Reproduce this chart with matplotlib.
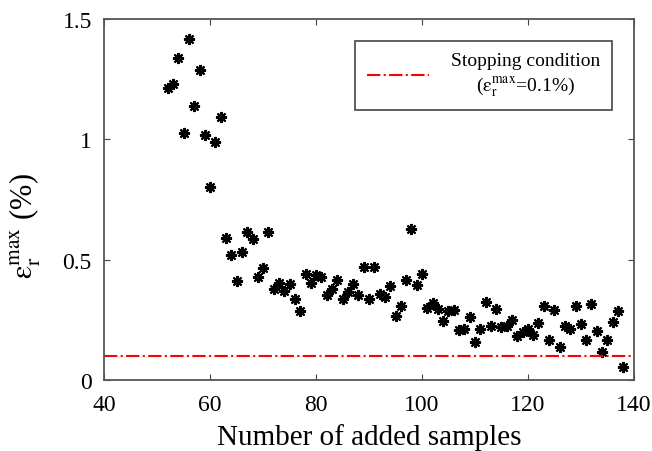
import matplotlib
matplotlib.use("Agg")
import matplotlib.pyplot as plt

# number of added samples and the max relative error (%) after each one
samples = list(range(52, 139))
err_max = [
    1.215, 1.228, 1.336, 1.024, 1.418, 1.138, 1.289, 1.018, 0.800, 0.989,  # 52-61
    1.093, 0.592, 0.519, 0.412, 0.532, 0.615, 0.585, 0.430, 0.465, 0.615,  # 62-71
    0.378, 0.405, 0.370, 0.398, 0.336, 0.288, 0.440, 0.405, 0.436, 0.426,  # 72-81
    0.353, 0.378, 0.416, 0.336, 0.364, 0.398, 0.353, 0.470, 0.336, 0.470,  # 82-91
    0.357, 0.343, 0.389, 0.267, 0.306, 0.416, 0.627, 0.394, 0.440, 0.300,  # 92-101
    0.322, 0.295, 0.246, 0.288, 0.292, 0.207, 0.212, 0.260, 0.159, 0.212,  # 102-111
    0.325, 0.225, 0.295, 0.219, 0.225, 0.249, 0.184, 0.198, 0.212, 0.187,  # 112-121
    0.235, 0.308, 0.166, 0.292, 0.136, 0.225, 0.212, 0.308, 0.232, 0.166,  # 122-131
    0.315, 0.205, 0.117, 0.166, 0.239, 0.288, 0.053,                       # 132-138
]
stop_level = 0.1

plt.rcParams['font.family'] = ['Liberation Serif', 'DejaVu Serif']
plt.rcParams['mathtext.fontset'] = 'stix'

fig = plt.figure(figsize=(6.52, 4.52), dpi=100)
ax = fig.add_axes([0.16, 0.157, 0.812, 0.799])

ax.plot(samples, err_max, linestyle='none', marker=(8, 2, 0),
        markersize=8, markeredgewidth=1.5, color='black')
ax.axhline(stop_level, color='red', linestyle='-.', linewidth=1.5,
           label='Stopping condition\n'
                 r'($\mathrm{ε}_\mathrm{r}^\mathrm{max}$=0.1%)')

ax.set_xlim(40, 140)
ax.set_ylim(0, 1.5)
ax.set_xticks([40, 60, 80, 100, 120, 140])
ax.set_yticks([0, 0.5, 1, 1.5])
ax.set_yticklabels(['0', '0.5', '1', '1.5'])
ax.tick_params(direction='in', top=True, right=True, labelsize=17,
               length=4, color='#444444')
ax.tick_params(axis='x', pad=10)
ax.tick_params(axis='y', pad=9)
for sp in ax.spines.values():
    sp.set_color('#555555')
    sp.set_linewidth(1.3)

ax.set_xlabel('Number of added samples', fontsize=21, labelpad=6)
ax.set_ylabel(r'$\mathrm{ε}_\mathrm{r}^\mathrm{max}$ (%)', fontsize=22)
ax.yaxis.set_label_coords(-0.115, 0.43)

leg = ax.legend(loc='upper right', fontsize=14, fancybox=False,
                edgecolor='#444444', framealpha=1, handlelength=3.2,
                handletextpad=1.1, borderpad=0.6, borderaxespad=0,
                bbox_to_anchor=(0.958, 0.94))
leg.get_frame().set_linewidth(1.2)
for t in leg.get_texts():
    t.set_multialignment('center')
    t.set_linespacing(1.3)

fig.savefig('out.png', dpi=100)
